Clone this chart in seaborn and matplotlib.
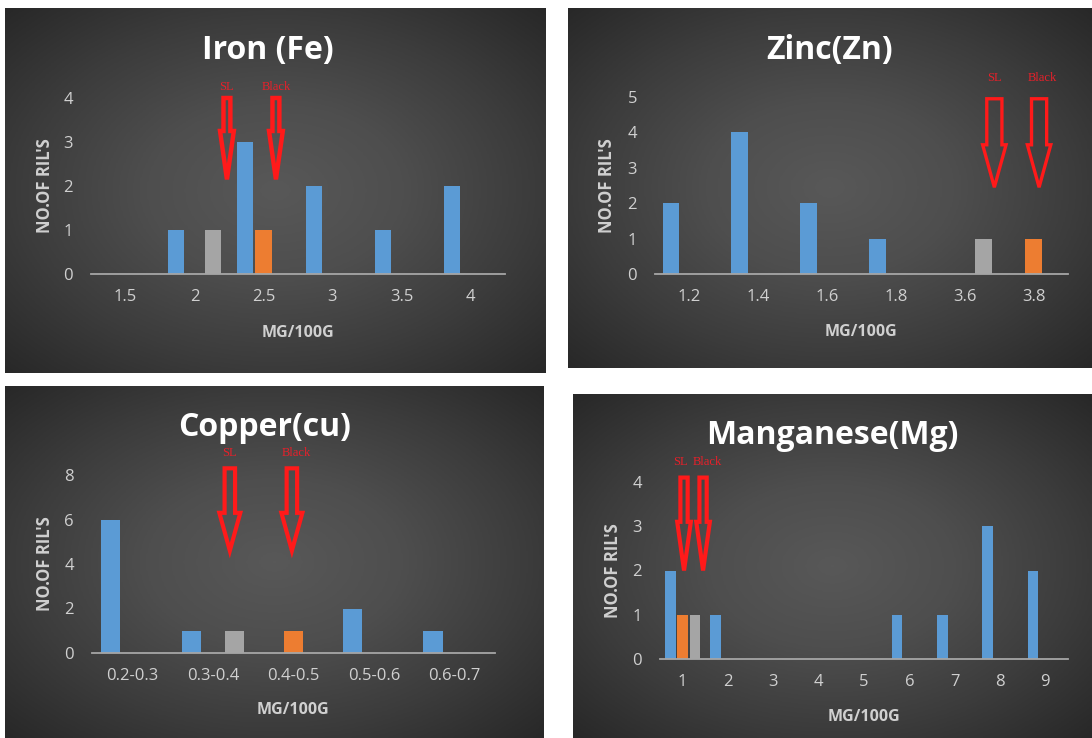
import numpy as np
import pandas as pd
import seaborn as sns
import matplotlib.pyplot as plt
from matplotlib.patches import FancyArrow
from matplotlib.colors import LinearSegmentedColormap

# ---- data ----
iron_cats = ["1.5", "2", "2.5", "3", "3.5", "4"]
iron_rils = [0, 1, 3, 2, 1, 2]
iron_black = [0, 0, 1, 0, 0, 0]
iron_sl = [0, 1, 0, 0, 0, 0]

zinc_cats = ["1.2", "1.4", "1.6", "1.8", "3.6", "3.8"]
zinc_rils = [2, 4, 2, 1, 0, 0]
zinc_black = [0, 0, 0, 0, 0, 1]
zinc_sl = [0, 0, 0, 0, 1, 0]

copper_cats = ["0.2-0.3", "0.3-0.4", "0.4-0.5", "0.5-0.6", "0.6-0.7"]
copper_rils = [6, 1, 0, 2, 1]
copper_black = [0, 0, 1, 0, 0]
copper_sl = [0, 1, 0, 0, 0]

mn_cats = ["1", "2", "3", "4", "5", "6", "7", "8", "9"]
mn_rils = [2, 1, 0, 0, 0, 1, 1, 3, 2]
mn_black = [1, 0, 0, 0, 0, 0, 0, 0, 0]
mn_sl = [1, 0, 0, 0, 0, 0, 0, 0, 0]

series = ["RILs", "Black", "SL"]
palette = {"RILs": "#5b9bd5", "Black": "#ed7d31", "SL": "#a5a5a5"}

W, H = 1092, 738
sns.set_theme(style="white")
plt.rcParams["font.family"] = ["Open Sans", "DejaVu Sans"]

fig = plt.figure(figsize=(W / 100, H / 100), dpi=100)
fig.patch.set_facecolor("white")

bg_cmap = LinearSegmentedColormap.from_list("bg", ["#282828", "#3c3c3c", "#4e4e4e", "#585858"])
yy, xx = np.mgrid[-1:1:200j, -1:1:200j]
grad = 1 - np.sqrt(xx ** 2 + yy ** 2) / np.sqrt(2)


def rect(x0, y0, x1, y1):
    return [x0 / W, 1 - y1 / H, (x1 - x0) / W, (y1 - y0) / H]


def to_long(cats, rils, black, sl):
    df = pd.DataFrame({"cat": cats, "RILs": rils, "Black": black, "SL": sl})
    return df.melt(id_vars="cat", var_name="series", value_name="count")


def draw_panel(box, plot, title, title_xy, cats, rils, black, sl, ymax, ystep,
               xlab_y, ylab_x, arrows, labels, arrow_lw):
    bg = fig.add_axes(rect(*box))
    bg.imshow(grad, cmap=bg_cmap, aspect="auto", extent=[0, 1, 0, 1])
    bg.axis("off")

    ax = fig.add_axes(rect(*plot))
    ax.patch.set_alpha(0)
    df = to_long(cats, rils, black, sl)
    sns.barplot(data=df, x="cat", y="count", hue="series", hue_order=series,
                order=cats, palette=palette, width=0.81, gap=0.12,
                saturation=1, linewidth=0, legend=False, ax=ax)
    ax.set_xlim(-0.5, len(cats) - 0.5)
    ax.set_ylim(0, ymax)
    ax.set_yticks(np.arange(0, ymax + 0.1, ystep))
    for s in ["top", "right", "left"]:
        ax.spines[s].set_visible(False)
    ax.spines["bottom"].set_color("#a6a6a6")
    ax.spines["bottom"].set_linewidth(1.3)
    ax.tick_params(axis="both", length=0, colors="#d0d0d0", labelsize=12)
    ax.tick_params(axis="y", pad=13)
    ax.tick_params(axis="x", pad=11)

    x0, y0, x1, y1 = plot
    ax.set_xlabel("MG/100G", fontsize=11.5, weight="bold", color="#d0d0d0")
    ax.xaxis.label.set_va("center")
    ax.xaxis.set_label_coords(0.5, -(xlab_y - y1) / (y1 - y0))
    ax.set_ylabel("NO.OF RIL'S", fontsize=12, weight="bold", color="#d0d0d0")
    ax.yaxis.label.set_va("center")
    ax.yaxis.set_label_coords(-(x0 - ylab_x) / (x1 - x0), 0.5)

    fig.text(title_xy[0] / W, 1 - title_xy[1] / H, title, ha="center", va="center",
             fontsize=23, weight="bold", color="white")

    # red call-out arrows pointing at the parent lines
    for xa, ytop, ybot, w, hw, hl in arrows:
        ax.add_patch(FancyArrow(xa, ytop, 0, ybot - ytop, width=w, head_width=hw,
                                head_length=hl, length_includes_head=True,
                                fill=False, ec="#ff1a1a", lw=arrow_lw, clip_on=False))
    for xt, yt, txt in labels:
        ax.text(xt, yt, txt, ha="center", va="center", color="#e8202a",
                fontsize=9, family="Liberation Serif", clip_on=False)


draw_panel((5, 8, 546, 373), (91, 98, 505, 274), "Iron (Fe)", (268, 50),
           iron_cats, iron_rils, iron_black, iron_sl, 4, 1, 333, 45,
           [(1.47, 4.0, 2.15, 0.1, 0.2, 1.1), (2.18, 4.0, 2.15, 0.1, 0.2, 1.1)],
           [(1.47, 4.25, "SL"), (2.18, 4.25, "Black")], 3.2)

draw_panel((568, 8, 1092, 368), (655, 97, 1068, 274), "Zinc(Zn)", (830, 50),
           zinc_cats, zinc_rils, zinc_black, zinc_sl, 5, 1, 332, 607,
           [(4.43, 4.95, 2.45, 0.22, 0.34, 1.2), (5.08, 4.95, 2.45, 0.22, 0.34, 1.2)],
           [(4.43, 5.55, "SL"), (5.12, 5.55, "Black")], 2.4)

draw_panel((5, 386, 544, 738), (92, 475, 495, 653), "Copper(cu)", (265, 427),
           copper_cats, copper_rils, copper_black, copper_sl, 8, 2, 710, 45,
           [(1.21, 8.3, 4.6, 0.13, 0.26, 1.7), (1.98, 8.3, 4.6, 0.13, 0.26, 1.7)],
           [(1.21, 9.0, "SL"), (2.04, 9.0, "Black")], 3.0)

draw_panel((573, 394, 1092, 738), (660, 482, 1068, 659), "Manganese(Mg)", (832, 435),
           mn_cats, mn_rils, mn_black, mn_sl, 4, 1, 717, 613,
           [(0.03, 4.1, 2.0, 0.16, 0.3, 1.1), (0.45, 4.1, 2.0, 0.16, 0.3, 1.1)],
           [(-0.05, 4.45, "SL"), (0.55, 4.45, "Black")], 3.0)

fig.savefig("out.png", dpi=100, facecolor="white")
